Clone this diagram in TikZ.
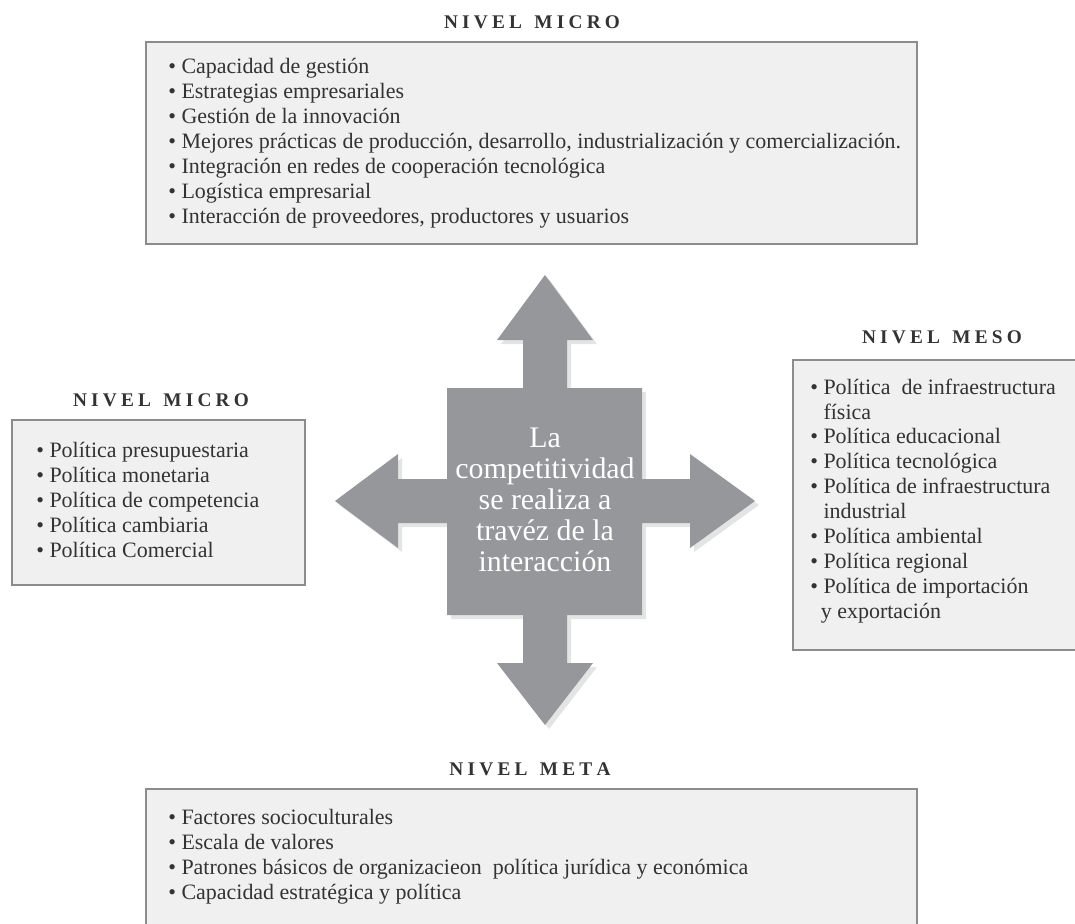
\documentclass[tikz,border=0pt]{standalone}
\usepackage{fontspec}
\setmainfont{Liberation Serif}

\definecolor{boxfill}{HTML}{F0F0F0}
\definecolor{boxline}{HTML}{8C8C8C}
\definecolor{crossgray}{HTML}{96979B}
\definecolor{crossshade}{HTML}{E3E4E4}
\definecolor{txtgray}{HTML}{333333}

\newcommand{\itm}{\textbullet\ }
\newcommand{\cnt}{\phantom{\textbullet}\ }
\newcommand{\ls}{\kern2.4pt}

\begin{document}
\begin{tikzpicture}[x=0.02cm,y=-0.02cm]
\useasboundingbox (0,0) rectangle (1075,923);

% cross in the middle
\fill[crossshade,shift={(4,4)}]
    (545,275) -- (593,340) -- (567,340) -- (567,388) -- (642,388) -- (642,479)
 -- (690,479) -- (690,454) -- (755,501) -- (690,548) -- (690,523) -- (642,523)
 -- (642,615) -- (567,615) -- (567,663) -- (593,663) -- (545,725) -- (497,663)
 -- (523,663) -- (523,615) -- (447,615) -- (447,523) -- (398,523) -- (398,548)
 -- (335,501) -- (398,454) -- (398,479) -- (447,479) -- (447,388) -- (523,388)
 -- (523,340) -- (497,340) -- cycle;
\fill[crossgray]
    (545,275) -- (593,340) -- (567,340) -- (567,388) -- (642,388) -- (642,479)
 -- (690,479) -- (690,454) -- (755,501) -- (690,548) -- (690,523) -- (642,523)
 -- (642,615) -- (567,615) -- (567,663) -- (593,663) -- (545,725) -- (497,663)
 -- (523,663) -- (523,615) -- (447,615) -- (447,523) -- (398,523) -- (398,548)
 -- (335,501) -- (398,454) -- (398,479) -- (447,479) -- (447,388) -- (523,388)
 -- (523,340) -- (497,340) -- cycle;

\begin{scope}[every node/.style={white,align=center,inner sep=0pt,
              font=\fontsize{17}{17.6}\selectfont}]
    \node (hub) at (545,500) {La\\competitividad\\se realiza a\\trav\'ez de la\\interacci\'on};
\end{scope}

% boxes
\begin{scope}[every node/.style={rectangle,draw=boxline,line width=1pt,fill=boxfill}]
    \node[minimum width=15.42cm,minimum height=4.04cm] (bmicro)  at (531.5,143)   {};
    \node[minimum width=5.86cm, minimum height=3.30cm] (bmacro)  at (158.5,502.5) {};
    \node[minimum width=5.84cm, minimum height=5.80cm] (bmeso)   at (939  ,505)   {};
    \node[minimum width=15.42cm,minimum height=2.92cm] (bmeta)   at (531.5,862)   {};
\end{scope}

% titles
\begin{scope}[every node/.style={txtgray,inner sep=0pt,
              font=\fontsize{11}{12}\selectfont\bfseries}]
    \node (tmicro) at (532,22)  {N\ls I\ls V\ls E\ls L\hspace{7pt}M\ls I\ls C\ls R\ls O};
    \node (tmacro) at (161,400) {N\ls I\ls V\ls E\ls L\hspace{7pt}M\ls I\ls C\ls R\ls O};
    \node (tmeso)  at (942,337) {N\ls I\ls V\ls E\ls L\hspace{7pt}M\ls E\ls S\ls O};
    \node (tmeta)  at (530,769) {N\ls I\ls V\ls E\ls L\hspace{7pt}M\ls E\ls T\ls A};
\end{scope}

% lists
\begin{scope}[every node/.style={txtgray,inner sep=0pt,anchor=west,align=left,
              font=\fontsize{12.5}{14.2}\selectfont}]
    \node (lmicro) at (168,143) {\itm Capacidad de gesti\'on\\
        \itm Estrategias empresariales\\
        \itm Gesti\'on de la innovaci\'on\\
        \itm Mejores pr\'acticas de producci\'on, desarrollo, industrializaci\'on y comercializaci\'on.\\
        \itm Integraci\'on en redes de cooperaci\'on tecnol\'ogica\\
        \itm Log\'istica empresarial\\
        \itm Interacci\'on de proveedores, productores y usuarios};
    \node (lmacro) at (36,500) {\itm Pol\'itica presupuestaria\\
        \itm Pol\'itica monetaria\\
        \itm Pol\'itica de competencia\\
        \itm Pol\'itica cambiaria\\
        \itm Pol\'itica Comercial};
    \node (lmeso) at (810,501) {\itm Pol\'itica\ \ de infraestructura\\
        \cnt f\'isica\\
        \itm Pol\'itica educacional\\
        \itm Pol\'itica tecnol\'ogica\\
        \itm Pol\'itica de infraestructura\\
        \cnt industrial\\
        \itm Pol\'itica ambiental\\
        \itm Pol\'itica regional\\
        \itm Pol\'itica de importaci\'on\\
        \hspace{6pt}y exportaci\'on};
    \node (lmeta) at (168,857) {\itm Factores socioculturales\\
        \itm Escala de valores\\
        \itm Patrones b\'asicos de organizacieon\ \ pol\'itica jur\'idica y econ\'omica\\
        \itm Capacidad estrat\'egica y pol\'itica};
\end{scope}
\end{tikzpicture}
\end{document}
